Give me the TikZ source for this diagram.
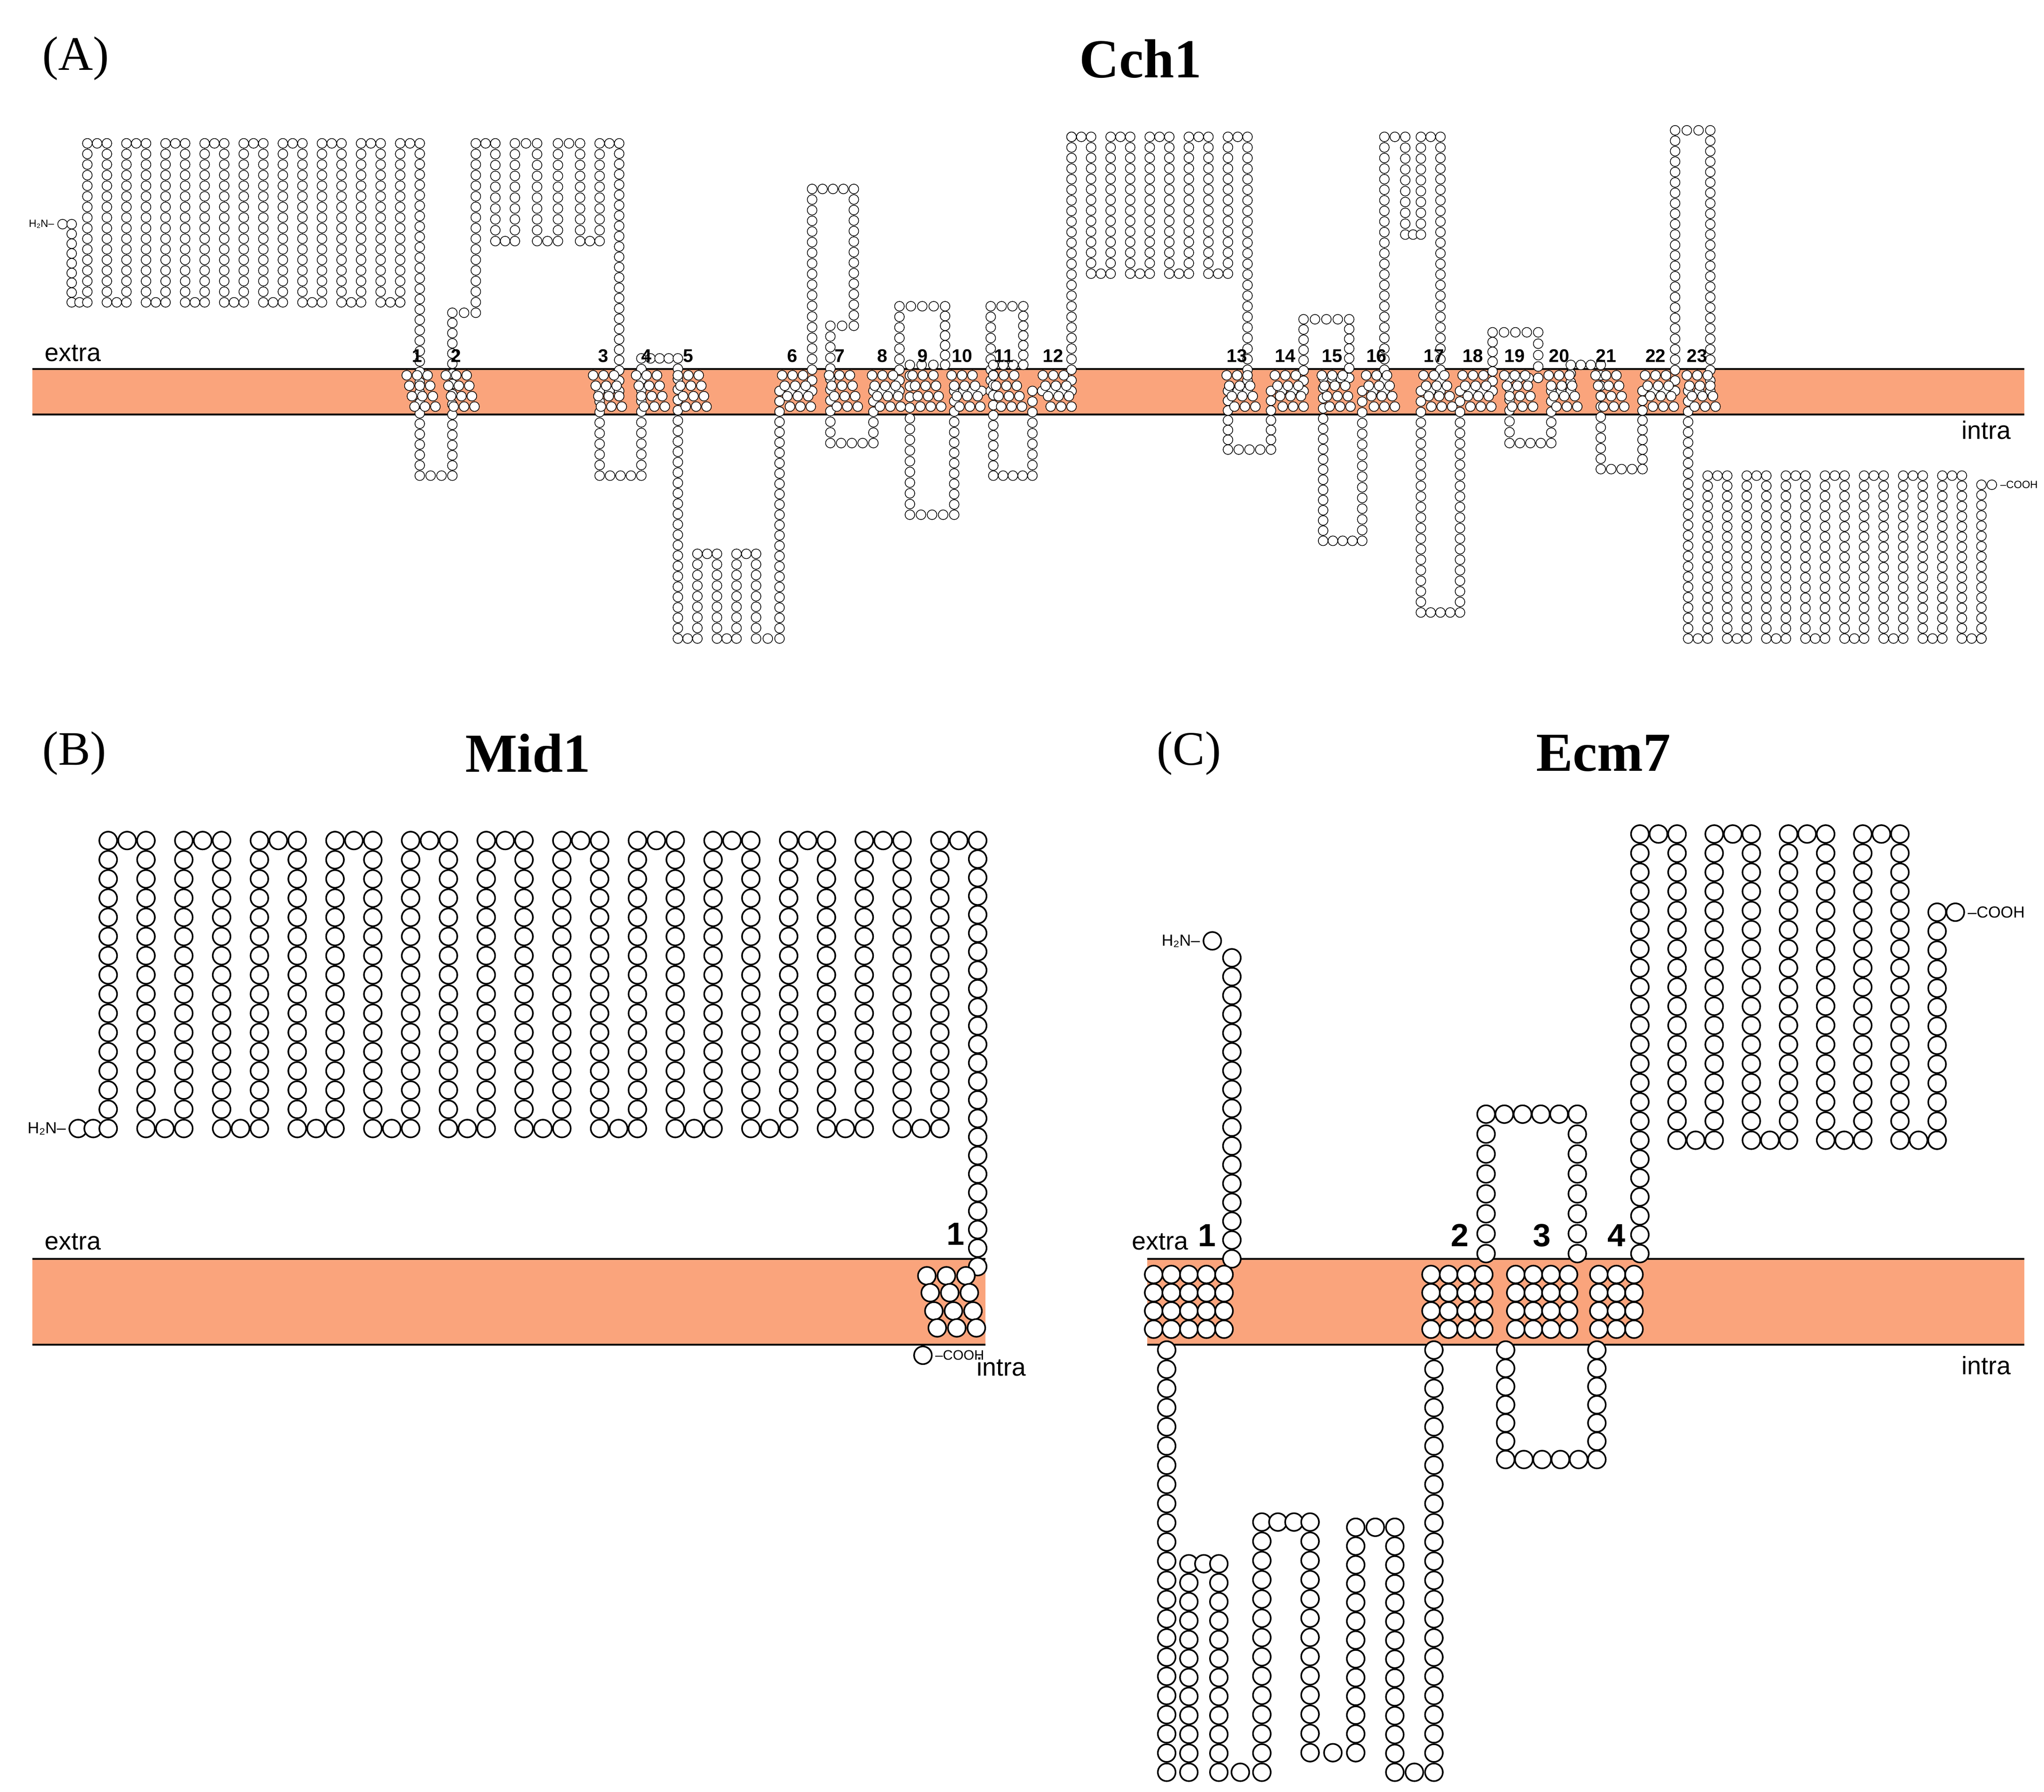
\documentclass[tikz,border=0pt]{standalone}
\usepackage{fontspec}
\setmainfont{Liberation Serif}
\newfontfamily\sansf{Liberation Sans}
\definecolor{memb}{RGB}{250,164,124}
\def\nonestr{none}
\newcommand\seg[6]{%
 \pgfmathtruncatemacro\nn{max(1,round(veclen((#5)-(#3),(#6)-(#4))/#2))}%
 \foreach \t in {1,...,\nn}{\path[#1] ({#3+(#5-#3)*\t/\nn},{#4+(#6-#4)*\t/\nn}) circle;}}
\newcommand\chain[3]{\gdef\pxx{none}\foreach \x/\y in {#3}{%
 \ifx\pxx\nonestr \path[#1] (\x,\y) circle; \else \seg{#1}{#2}{\pxx}{\pyy}{\x}{\y}\fi
 \xdef\pxx{\x}\xdef\pyy{\y}}}
\newcommand\serp[7]{\foreach \i in {1,...,#5}{%
 \pgfmathsetmacro\xa{#3+2*#4*(\i-1)}\pgfmathsetmacro\xb{\xa+#4}\pgfmathsetmacro\xc{\xa+2*#4}%
 \seg{#1}{#2}{\xa}{#7}{\xa}{#6}\seg{#1}{#2}{\xa}{#6}{\xb}{#6}%
 \seg{#1}{#2}{\xb}{#6}{\xb}{#7}\seg{#1}{#2}{\xb}{#7}{\xc}{#7}}}
\tikzset{
 cA/.style={draw,line width=0.15pt,fill=white,radius=0.037cm},
 cB/.style={draw,line width=0.35pt,fill=white,radius=0.068cm},
 title/.style={font=\bfseries\fontsize{12}{13}\selectfont},
 panel/.style={font=\fontsize{10.5}{11}\selectfont,anchor=west},
 memlab/.style={font=\sansf\fontsize{5.5}{6}\selectfont},
 tmA/.style={font=\sansf\bfseries\fontsize{4}{5}\selectfont},
 tmB/.style={font=\sansf\bfseries\fontsize{7}{8}\selectfont},
 endA/.style={font=\sansf\fontsize{2.3}{3}\selectfont,inner sep=0.5pt},
 endB/.style={font=\sansf\fontsize{3.5}{4}\selectfont,inner sep=0.5pt},
}
\begin{document}
\begin{tikzpicture}[x=0.01cm,y=-0.01cm]
\useasboundingbox[fill=white] (0,0) rectangle (1568,1375);
% membranes
\fill[memb] (25,283) rectangle (1553,318);
\draw[line width=0.4pt] (25,283) -- (1553,283) (25,318) -- (1553,318);
\fill[memb] (25,966) rectangle (756,1032);
\draw[line width=0.4pt] (25,966) -- (756,966) (25,1032) -- (756,1032);
\fill[memb] (880,966) rectangle (1553,1032);
\draw[line width=0.4pt] (880,966) -- (1553,966) (880,1032) -- (1553,1032);
% titles
\node[panel] (pa) at (20,45) {(A)};
\node[title] (ta) at (875,45) {Cch1};
\node[panel] (pb) at (20,578) {(B)};
\node[title] (tb) at (405,578) {Mid1};
\node[panel] (pc) at (875,578) {(C)};
\node[title] (tc) at (1230,578) {Ecm7};
\node[memlab,anchor=west] (ea) at (22,271) {extra};
\node[memlab,anchor=east] (ia) at (1555,330) {intra};
\node[memlab,anchor=west] (eb) at (22,953) {extra};
\node[memlab,anchor=west] (ib) at (737,1049) {intra};
\node[memlab,anchor=west] (ec) at (856,953) {extra};
\node[memlab,anchor=east] (ic) at (1555,1048) {intra};
% ---------- panel A chain
\chain{cA}{8}{48/172,55/172,55/232,67/232}
\serp{cA}{8}{67}{15}{8}{110}{232}
\chain{cA}{8}{307/232,307/110,322/110,322/365,347/365,347/240,365/240,365/110,380/110,380/185,395/185,395/110,412/110,412/185,428/185,428/110,445/110,445/185,460/185,460/110,475/110,475/300,460/300,460/365,492/365,492/275,520/275,520/490,535/490,535/425,550/425,550/490,565/490,565/425,580/425,580/490,598/490,598/300,623/300,623/145,655/145,655/250,637/250,637/340,670/340,670/300,690/300,690/235,725/235,725/280,698/280,698/395,732/395,732/300,760/300,760/235,785/235,785/280,762/280,762/365,792/365,792/300,822/300,822/105}
\chain{cA}{8}{822/105,837/105,837/210,852/210,852/105,867/105,867/210,882/210,882/105,897/105,897/210,912/210,912/105,927/105,927/210,942/210,942/105,957/105,957/300,942/300,942/345,975/345,975/300,1000/300,1000/245,1035/245,1035/290,1015/290,1015/415,1045/415,1045/300,1062/300,1062/105,1078/105,1078/180,1090/180,1090/105,1105/105,1105/300,1090/300,1090/470,1120/470,1120/300,1145/300,1145/255,1180/255,1180/290,1158/290,1158/340,1190/340,1190/300,1205/300,1205/280,1228/280,1228/360,1260/360,1260/300,1285/300,1285/100,1312/100,1312/300,1295/300,1295/490,1310/490}
\serp{cA}{8}{1310}{15}{7}{365}{490}
\chain{cA}{8}{1520/490,1520/372,1528/372}
\node[endA,anchor=east] (nA) at (44,172) {H₂N–};
\node[endA,anchor=west] (cA) at (1532,372) {–COOH};
% TM clusters A
\foreach \x [count=\k] in {320,350,463,496,528,608,644,677,708,738,770,808,949,986,1022,1056,1100,1130,1162,1196,1232,1270,1302} {
  \foreach \dx in {-8,0,8} \foreach \dy in {-12,-4,4,12}
    \path[cA] ({\x+3+\dx+0.25*\dy},{300+\dy}) circle;
  \node[tmA] (tma\k) at (\x,273) {\k};
}
% ---------- panel B chain
\chain{cB}{14.5}{60/866,83/866}
\serp{cB}{14.5}{83}{29}{11}{645}{866}
\chain{cB}{14.5}{721/866,721/645,750/645,750/972}
\node[endB,anchor=east] (nB) at (53,866) {H₂N–};
\foreach \dx in {-15,0,15} \foreach \dy in {-20,-7,7,20}
  \path[cB] ({730+\dx+0.2*\dy},{999+\dy}) circle;
\path[cB] (708,1040) circle;
\node[endA,anchor=west,font=\sansf\fontsize{3}{3}\selectfont] (cB) at (715,1040) {–COOH};
\node[tmB] (tmb1) at (733,947) {1};
% ---------- panel C chain
\chain{cB}{14.5}{930/722,945/735,945/966}
\chain{cB}{14.5}{895/1036,895/1360,912/1360,912/1200,935/1200,935/1360,968/1360,968/1168,1005/1168,1005/1345,1040/1345,1040/1172,1070/1172,1070/1360,1100/1360,1100/1036}
\chain{cB}{14.5}{1140/962,1140/855,1210/855,1210/962}
\chain{cB}{14.5}{1155/1036,1155/1120,1225/1120,1225/1036}
\chain{cB}{14.5}{1258/962,1258/875}
\serp{cB}{14.5}{1258}{28.5}{4}{640}{875}
\chain{cB}{14.5}{1486/875,1486/700,1500/700}
\node[endB,anchor=east] (nC) at (923,722) {H₂N–};
\node[endB,anchor=west] (cC) at (1507,700) {–COOH};
\foreach \cx/\nc in {912/5,1118/4,1183/4,1240/3} {
  \foreach \j in {1,...,\nc} \foreach \dy in {-21,-7,7,21}
    \path[cB] ({\cx+13.5*(\j-(\nc+1)/2)},{999+\dy}) circle;
}
\node[tmB] (tmc1) at (926,948) {1};
\node[tmB] (tmc2) at (1120,948) {2};
\node[tmB] (tmc3) at (1183,948) {3};
\node[tmB] (tmc4) at (1240,948) {4};
\end{tikzpicture}
\end{document}
